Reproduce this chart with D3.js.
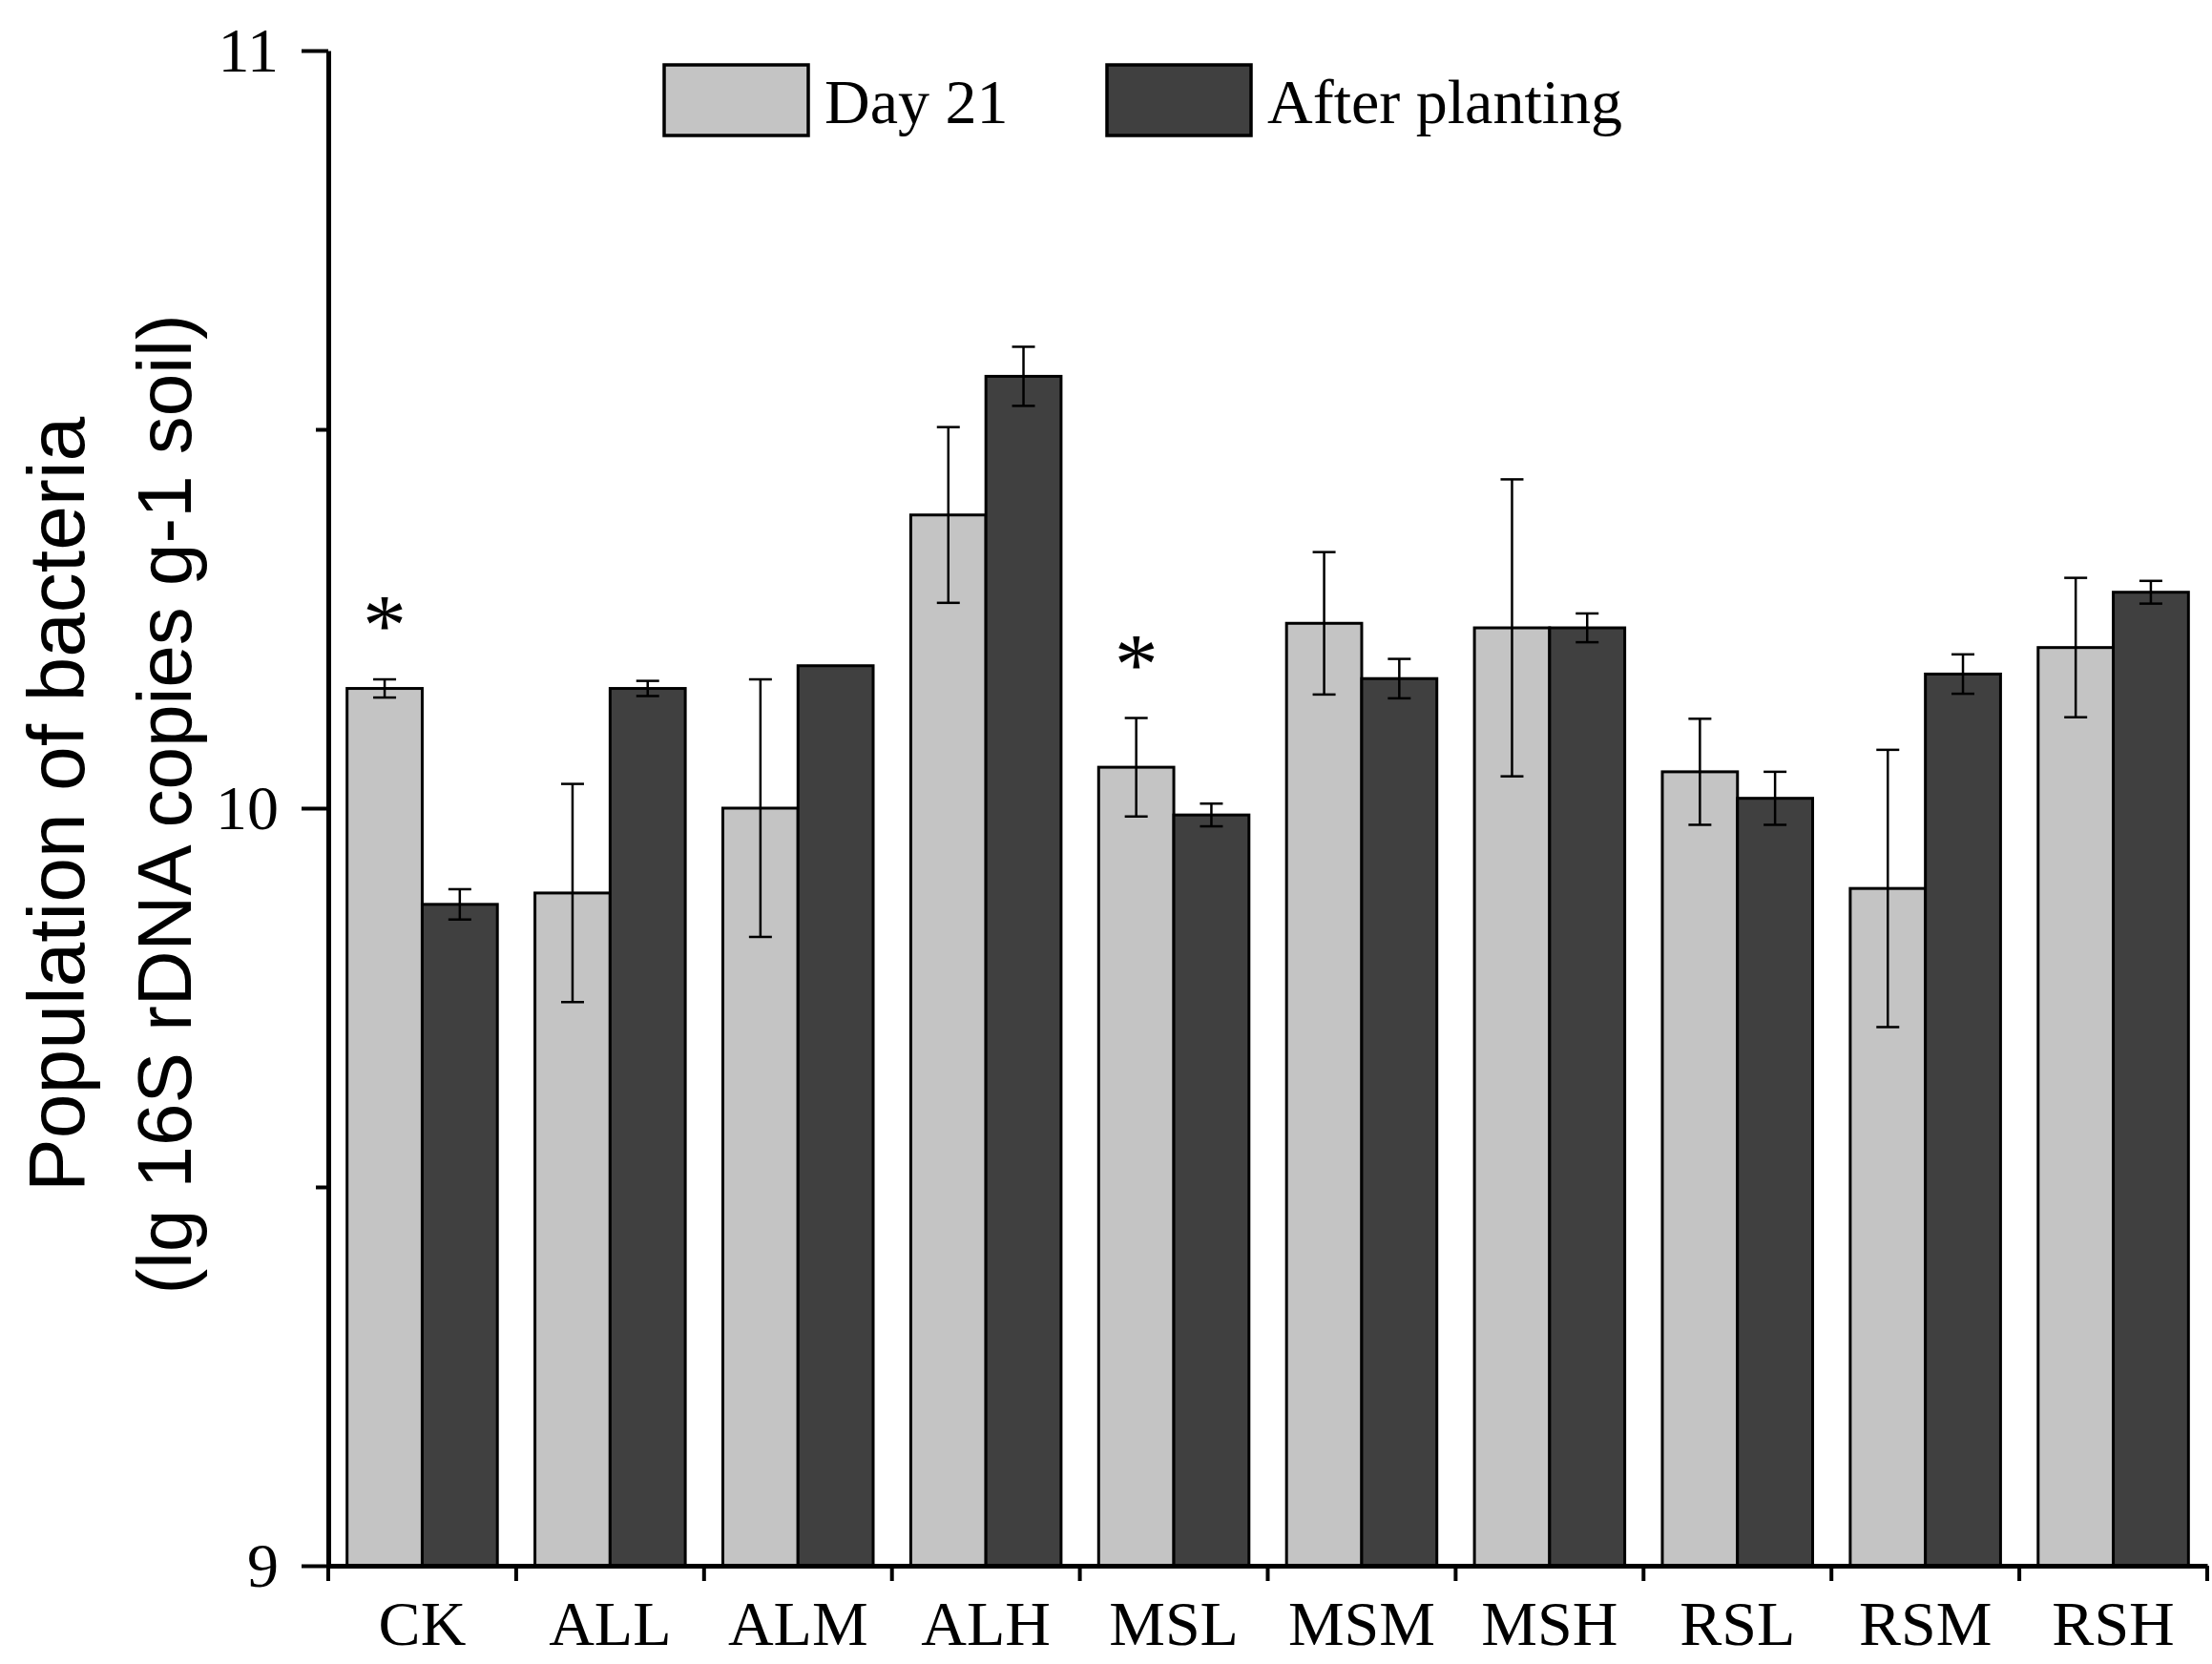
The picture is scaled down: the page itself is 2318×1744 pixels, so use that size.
<!DOCTYPE html>
<html>
<head>
<meta charset="utf-8">
<script src="https://cdn.jsdelivr.net/npm/d3@7"></script>
<style>
  body { margin: 0; background: #ffffff; }
</style>
</head>
<body>
<div id="chart"></div>
<script>
// values
var categories = ["CK", "ALL", "ALM", "ALH", "MSL", "MSM", "MSH", "RSL", "RSM", "RSH"];
var seriesNames = ["Day 21", "After planting"];
var day21 = [10.158, 9.888, 10.0, 10.387, 10.054, 10.244, 10.238, 10.048, 9.894, 10.212];
var day21Err = [0.012, 0.144, 0.17, 0.116, 0.065, 0.094, 0.196, 0.07, 0.183, 0.092];
var after = [9.873, 10.158, 10.188, 10.570, 9.991, 10.171, 10.238, 10.013, 10.177, 10.285];
var afterErr = [0.02, 0.01, 0, 0.039, 0.015, 0.026, 0.019, 0.035, 0.026, 0.015];
var day21Sig = ["*", "", "", "", "*", "", "", "", "", ""];
var yTicks = [9, 10, 11];
var yMinorTicks = [9.5, 10.5];

var width = 2318;
var height = 1744;
var margin = {top: 53, right: 5, bottom: 103, left: 344};

var colors = ["#c4c4c4", "#404040"];

var svg = d3.select("#chart").append("svg")
    .attr("width", width)
    .attr("height", height);

var g = svg.append("g")
    .attr("transform", "translate(" + margin.left + "," + margin.top + ")");

var innerW = width - margin.left - margin.right;
var innerH = height - margin.top - margin.bottom;

var x = d3.scaleBand()
    .domain(categories)
    .range([0, innerW])
    .paddingInner(0.2)
    .paddingOuter(0.1);

var xSeries = d3.scaleBand()
    .domain(seriesNames)
    .range([0, x.bandwidth()]);

var y = d3.scaleLinear()
    .domain([9, 11])
    .range([innerH, 0]);

// build rows for the bars
var rows = [];
categories.forEach(function(c, i) {
    rows.push({cat: c, series: seriesNames[0], value: day21[i], err: day21Err[i], sig: day21Sig[i], color: colors[0]});
    rows.push({cat: c, series: seriesNames[1], value: after[i], err: afterErr[i], sig: "", color: colors[1]});
});

var bars = g.append("g").selectAll("g")
    .data(rows)
    .enter().append("g")
    .attr("transform", function(d) { return "translate(" + (x(d.cat) + xSeries(d.series)) + ",0)"; });

bars.append("rect")
    .attr("x", 0)
    .attr("y", function(d) { return y(d.value); })
    .attr("width", xSeries.bandwidth())
    .attr("height", function(d) { return innerH - y(d.value); })
    .attr("fill", function(d) { return d.color; })
    .attr("stroke", "#000")
    .attr("stroke-width", 3);

// error bars
var capW = 24;
var eb = bars.filter(function(d) { return d.err > 0; }).append("g")
    .attr("stroke", "#000")
    .attr("stroke-width", 2.5);

eb.append("line")
    .attr("x1", xSeries.bandwidth() / 2)
    .attr("x2", xSeries.bandwidth() / 2)
    .attr("y1", function(d) { return y(d.value + d.err); })
    .attr("y2", function(d) { return y(d.value - d.err); });

eb.append("line")
    .attr("x1", xSeries.bandwidth() / 2 - capW / 2)
    .attr("x2", xSeries.bandwidth() / 2 + capW / 2)
    .attr("y1", function(d) { return y(d.value + d.err); })
    .attr("y2", function(d) { return y(d.value + d.err); });

eb.append("line")
    .attr("x1", xSeries.bandwidth() / 2 - capW / 2)
    .attr("x2", xSeries.bandwidth() / 2 + capW / 2)
    .attr("y1", function(d) { return y(d.value - d.err); })
    .attr("y2", function(d) { return y(d.value - d.err); });

// significance stars
bars.filter(function(d) { return d.sig != ""; }).append("text")
    .attr("x", xSeries.bandwidth() / 2)
    .attr("y", function(d) { return y(d.value + d.err) - 26; })
    .attr("text-anchor", "middle")
    .attr("font-family", "Liberation Serif")
    .attr("font-size", "92")
    .attr("fill", "#000")
    .text(function(d) { return d.sig; });

// y axis
var yAxis = g.append("g")
    .call(d3.axisLeft(y).tickValues(yTicks).tickSize(28).tickSizeOuter(0).tickPadding(24).tickFormat(d3.format("d")));

g.append("g")
    .call(d3.axisLeft(y).tickValues(yMinorTicks).tickSize(13).tickSizeOuter(0).tickFormat(""))
    .select(".domain").remove();

g.selectAll(".tick line").attr("stroke-width", 4);
yAxis.select(".domain").attr("stroke-width", 5);
yAxis.selectAll("text")
    .attr("font-family", "Liberation Serif")
    .attr("font-size", "66")
    .attr("fill", "#000");

// x axis: labels at the centres, ticks between groups
var xAxis = g.append("g")
    .attr("transform", "translate(0," + innerH + ")")
    .call(d3.axisBottom(x).tickSize(0).tickSizeOuter(0).tickPadding(36));

xAxis.select(".domain").attr("stroke-width", 5);
xAxis.selectAll("text")
    .attr("font-family", "Liberation Serif")
    .attr("font-size", "66")
    .attr("fill", "#000");

var step = x.step();
var bounds = d3.range(categories.length + 1).map(function(i) {
    return i < categories.length ? x(categories[i]) - x.paddingInner() * step / 2 : innerW;
});

xAxis.selectAll(".bound")
    .data(bounds)
    .enter().append("line")
    .attr("class", "bound")
    .attr("x1", function(d) { return d; })
    .attr("x2", function(d) { return d; })
    .attr("y1", 0)
    .attr("y2", 16)
    .attr("stroke", "#000")
    .attr("stroke-width", 4);

// y axis title
var title = svg.append("g")
    .attr("transform", "translate(0," + (margin.top + innerH / 2 - 4) + ") rotate(-90)")
    .attr("font-family", "Liberation Sans")
    .attr("text-anchor", "middle")
    .attr("fill", "#000");

title.append("text")
    .attr("x", 0)
    .attr("y", 88)
    .attr("font-size", "84")
    .text("Population of bacteria");

title.append("text")
    .attr("x", 0)
    .attr("y", 200)
    .attr("font-size", "80")
    .text("(lg 16S rDNA copies g-1 soil)");

// legend
var legendX = [696, 1160];
var legend = svg.append("g").selectAll("g")
    .data(seriesNames)
    .enter().append("g")
    .attr("transform", function(d, i) { return "translate(" + legendX[i] + ",68)"; });

legend.append("rect")
    .attr("width", 151)
    .attr("height", 74)
    .attr("fill", function(d, i) { return colors[i]; })
    .attr("stroke", "#000")
    .attr("stroke-width", 3.5);

legend.append("text")
    .attr("x", 168)
    .attr("y", 61)
    .attr("font-family", "Liberation Serif")
    .attr("font-size", "66")
    .attr("fill", "#000")
    .text(function(d) { return d; });
</script>
</body>
</html>
